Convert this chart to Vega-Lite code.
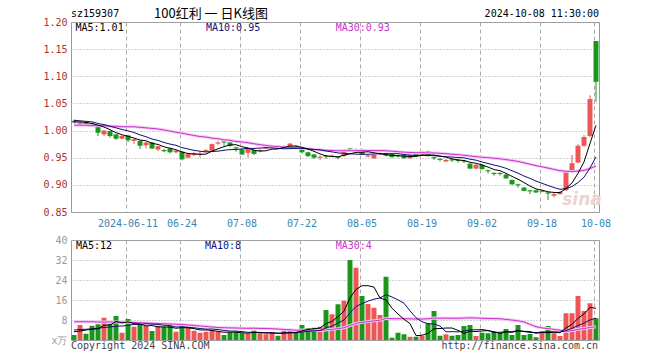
{
"$schema": "https://vega.github.io/schema/vega-lite/v6.json",
"padding": {"left": 42, "top": 7, "right": 60, "bottom": 8},
"spacing": 5,
"config": {
  "view": {"stroke": "#999999", "strokeWidth": 1},
  "font": "DejaVu Sans Mono",
  "text": {"font": "DejaVu Sans Mono", "fontSize": 10},
  "axis": {"labelFont": "DejaVu Sans Mono", "labelFontSize": 10, "ticks": false, "domain": false, "labelOverlap": false}
},
"datasets": {"k": [
{"d":"2024-05-28","o":1.018,"h":1.020,"l":1.013,"c":1.015,"v":2.0,"m5":1.016,"m10":1.019,"m30":1.010,"vm5":3.3,"vm10":4.0,"vm30":7.3},
{"d":"2024-05-29","o":1.012,"h":1.017,"l":1.010,"c":1.015,"v":6.0,"m5":1.016,"m10":1.018,"m30":1.010,"vm5":3.6,"vm10":4.2,"vm30":7.3},
{"d":"2024-05-30","o":1.015,"h":1.016,"l":1.010,"c":1.012,"v":2.5,"m5":1.015,"m10":1.017,"m30":1.010,"vm5":4.0,"vm10":4.3,"vm30":7.3},
{"d":"2024-05-31","o":1.013,"h":1.015,"l":1.008,"c":1.010,"v":5.7,"m5":1.013,"m10":1.016,"m30":1.009,"vm5":4.3,"vm10":4.5,"vm30":7.3},
{"d":"2024-06-03","o":1.007,"h":1.008,"l":0.990,"c":0.996,"v":6.3,"m5":1.010,"m10":1.013,"m30":1.009,"vm5":4.5,"vm10":4.7,"vm30":7.2},
{"d":"2024-06-04","o":0.993,"h":1.001,"l":0.990,"c":1.000,"v":8.9,"m5":1.0066,"m10":1.011,"m30":1.009,"vm5":5.88,"vm10":5.0,"vm30":7.2},
{"d":"2024-06-05","o":0.999,"h":1.000,"l":0.987,"c":0.990,"v":6.5,"m5":1.0016,"m10":1.008,"m30":1.008,"vm5":5.98,"vm10":5.2,"vm30":7.2},
{"d":"2024-06-06","o":0.993,"h":0.994,"l":0.983,"c":0.985,"v":9.6,"m5":0.9962,"m10":1.005,"m30":1.008,"vm5":7.4,"vm10":5.5,"vm30":7.2},
{"d":"2024-06-07","o":0.985,"h":0.991,"l":0.984,"c":0.990,"v":2.9,"m5":0.9922,"m10":1.002,"m30":1.007,"vm5":6.84,"vm10":5.6,"vm30":7.1},
{"d":"2024-06-11","o":0.991,"h":0.992,"l":0.979,"c":0.982,"v":8.4,"m5":0.9894,"m10":0.9995,"m30":1.007,"vm5":7.26,"vm10":5.88,"vm30":7.1},
{"d":"2024-06-12","o":0.981,"h":0.985,"l":0.975,"c":0.984,"v":5.3,"m5":0.9862,"m10":0.9964,"m30":1.007,"vm5":6.54,"vm10":6.21,"vm30":7.0},
{"d":"2024-06-13","o":0.981,"h":0.982,"l":0.966,"c":0.972,"v":6.0,"m5":0.9826,"m10":0.9921,"m30":1.006,"vm5":6.44,"vm10":6.21,"vm30":6.9},
{"d":"2024-06-14","o":0.973,"h":0.979,"l":0.967,"c":0.978,"v":5.6,"m5":0.9812,"m10":0.9887,"m30":1.005,"vm5":5.64,"vm10":6.52,"vm30":6.8},
{"d":"2024-06-17","o":0.978,"h":0.979,"l":0.966,"c":0.967,"v":3.6,"m5":0.9766,"m10":0.9844,"m30":1.004,"vm5":5.78,"vm10":6.31,"vm30":6.7},
{"d":"2024-06-18","o":0.965,"h":0.972,"l":0.962,"c":0.971,"v":5.7,"m5":0.9744,"m10":0.9819,"m30":1.003,"vm5":5.24,"vm10":6.25,"vm30":6.6},
{"d":"2024-06-19","o":0.964,"h":0.966,"l":0.960,"c":0.962,"v":5.3,"m5":0.970,"m10":0.9781,"m30":1.001,"vm5":5.24,"vm10":5.89,"vm30":6.5},
{"d":"2024-06-20","o":0.967,"h":0.968,"l":0.958,"c":0.960,"v":5.6,"m5":0.9676,"m10":0.9751,"m30":0.999,"vm5":5.16,"vm10":5.8,"vm30":6.4},
{"d":"2024-06-21","o":0.960,"h":0.965,"l":0.958,"c":0.963,"v":3.3,"m5":0.9646,"m10":0.9729,"m30":0.997,"vm5":4.7,"vm10":5.17,"vm30":6.3},
{"d":"2024-06-24","o":0.961,"h":0.962,"l":0.945,"c":0.947,"v":4.9,"m5":0.9606,"m10":0.9686,"m30":0.995,"vm5":4.96,"vm10":5.37,"vm30":6.2},
{"d":"2024-06-25","o":0.950,"h":0.958,"l":0.949,"c":0.957,"v":5.3,"m5":0.9578,"m10":0.9661,"m30":0.993,"vm5":4.88,"vm10":5.06,"vm30":6.0},
{"d":"2024-06-26","o":0.955,"h":0.960,"l":0.953,"c":0.958,"v":3.7,"m5":0.957,"m10":0.9635,"m30":0.991,"vm5":4.56,"vm10":4.9,"vm30":5.8},
{"d":"2024-06-27","o":0.955,"h":0.962,"l":0.950,"c":0.957,"v":2.9,"m5":0.9564,"m10":0.962,"m30":0.989,"vm5":4.02,"vm10":4.59,"vm30":5.6},
{"d":"2024-06-28","o":0.961,"h":0.966,"l":0.960,"c":0.964,"v":3.3,"m5":0.9566,"m10":0.9606,"m30":0.988,"vm5":4.02,"vm10":4.36,"vm30":5.4},
{"d":"2024-07-01","o":0.963,"h":0.976,"l":0.962,"c":0.975,"v":4.0,"m5":0.9622,"m10":0.9614,"m30":0.986,"vm5":3.84,"vm10":4.4,"vm30":5.2},
{"d":"2024-07-02","o":0.976,"h":0.981,"l":0.974,"c":0.978,"v":3.3,"m5":0.9664,"m10":0.9621,"m30":0.985,"vm5":3.44,"vm10":4.16,"vm30":5.0},
{"d":"2024-07-03","o":0.980,"h":0.982,"l":0.972,"c":0.978,"v":2.0,"m5":0.9704,"m10":0.9637,"m30":0.983,"vm5":3.1,"vm10":3.83,"vm30":4.9},
{"d":"2024-07-04","o":0.978,"h":0.979,"l":0.970,"c":0.972,"v":3.1,"m5":0.9734,"m10":0.9649,"m30":0.982,"vm5":3.14,"vm10":3.58,"vm30":4.85},
{"d":"2024-07-05","o":0.969,"h":0.970,"l":0.961,"c":0.967,"v":3.3,"m5":0.974,"m10":0.9653,"m30":0.980,"vm5":3.14,"vm10":3.58,"vm30":4.8},
{"d":"2024-07-08","o":0.965,"h":0.966,"l":0.955,"c":0.956,"v":2.7,"m5":0.9702,"m10":0.9662,"m30":0.979,"vm5":2.88,"vm10":3.36,"vm30":4.72},
{"d":"2024-07-09","o":0.959,"h":0.968,"l":0.950,"c":0.967,"v":2.4,"m5":0.968,"m10":0.9672,"m30":0.9776,"vm5":2.7,"vm10":3.07,"vm30":4.67},
{"d":"2024-07-10","o":0.964,"h":0.965,"l":0.955,"c":0.957,"v":3.7,"m5":0.9638,"m10":0.9671,"m30":0.9757,"vm5":3.04,"vm10":3.07,"vm30":4.73},
{"d":"2024-07-11","o":0.962,"h":0.966,"l":0.960,"c":0.964,"v":2.7,"m5":0.9622,"m10":0.9678,"m30":0.974,"vm5":2.96,"vm10":3.05,"vm30":4.62},
{"d":"2024-07-12","o":0.967,"h":0.972,"l":0.966,"c":0.970,"v":2.3,"m5":0.9628,"m10":0.9684,"m30":0.9726,"vm5":2.76,"vm10":2.95,"vm30":4.61},
{"d":"2024-07-15","o":0.969,"h":0.973,"l":0.968,"c":0.971,"v":3.1,"m5":0.9658,"m10":0.968,"m30":0.9713,"vm5":2.84,"vm10":2.86,"vm30":4.52},
{"d":"2024-07-16","o":0.972,"h":0.973,"l":0.967,"c":0.969,"v":1.7,"m5":0.9662,"m10":0.9671,"m30":0.9704,"vm5":2.7,"vm10":2.7,"vm30":4.37},
{"d":"2024-07-17","o":0.969,"h":0.973,"l":0.968,"c":0.971,"v":3.7,"m5":0.969,"m10":0.9664,"m30":0.9694,"vm5":2.7,"vm10":2.87,"vm30":4.2},
{"d":"2024-07-18","o":0.970,"h":0.977,"l":0.967,"c":0.976,"v":3.6,"m5":0.9714,"m10":0.9668,"m30":0.9689,"vm5":2.88,"vm10":2.92,"vm30":4.1},
{"d":"2024-07-19","o":0.972,"h":0.973,"l":0.968,"c":0.970,"v":3.1,"m5":0.9714,"m10":0.9671,"m30":0.9684,"vm5":3.04,"vm10":2.9,"vm30":3.88},
{"d":"2024-07-22","o":0.968,"h":0.969,"l":0.958,"c":0.960,"v":6.0,"m5":0.9692,"m10":0.9675,"m30":0.9674,"vm5":3.62,"vm10":3.23,"vm30":3.99},
{"d":"2024-07-23","o":0.960,"h":0.961,"l":0.951,"c":0.953,"v":4.7,"m5":0.966,"m10":0.9661,"m30":0.9665,"vm5":4.22,"vm10":3.46,"vm30":3.86},
{"d":"2024-07-24","o":0.956,"h":0.957,"l":0.948,"c":0.950,"v":4.9,"m5":0.9618,"m10":0.9654,"m30":0.9653,"vm5":4.46,"vm10":3.58,"vm30":3.85},
{"d":"2024-07-25","o":0.950,"h":0.954,"l":0.946,"c":0.952,"v":5.3,"m5":0.957,"m10":0.9642,"m30":0.9647,"vm5":4.8,"vm10":3.84,"vm30":3.83},
{"d":"2024-07-26","o":0.954,"h":0.955,"l":0.948,"c":0.952,"v":12.0,"m5":0.9534,"m10":0.9624,"m30":0.9638,"vm5":6.58,"vm10":4.81,"vm30":4.04},
{"d":"2024-07-29","o":0.952,"h":0.956,"l":0.951,"c":0.954,"v":10.3,"m5":0.9522,"m10":0.9607,"m30":0.9634,"vm5":7.44,"vm10":5.53,"vm30":4.26},
{"d":"2024-07-30","o":0.952,"h":0.953,"l":0.947,"c":0.950,"v":14.3,"m5":0.9516,"m10":0.9588,"m30":0.9627,"vm5":9.36,"vm10":6.79,"vm30":4.55},
{"d":"2024-07-31","o":0.953,"h":0.966,"l":0.952,"c":0.965,"v":15.7,"m5":0.9546,"m10":0.9582,"m30":0.9628,"vm5":11.52,"vm10":7.99,"vm30":4.9},
{"d":"2024-08-01","o":0.967,"h":0.968,"l":0.962,"c":0.965,"v":32.0,"m5":0.9572,"m10":0.9571,"m30":0.9629,"vm5":16.86,"vm10":10.83,"vm30":5.78},
{"d":"2024-08-02","o":0.963,"h":0.967,"l":0.961,"c":0.965,"v":28.9,"m5":0.9598,"m10":0.9566,"m30":0.963,"vm5":20.24,"vm10":13.41,"vm30":6.63},
{"d":"2024-08-05","o":0.965,"h":0.967,"l":0.955,"c":0.956,"v":17.6,"m5":0.9602,"m10":0.9562,"m30":0.9633,"vm5":21.7,"vm10":14.57,"vm30":7.05},
{"d":"2024-08-06","o":0.952,"h":0.956,"l":0.951,"c":0.954,"v":14.4,"m5":0.961,"m10":0.9563,"m30":0.9632,"vm5":21.72,"vm10":15.54,"vm30":7.36},
{"d":"2024-08-07","o":0.949,"h":0.956,"l":0.948,"c":0.955,"v":12.9,"m5":0.959,"m10":0.9568,"m30":0.9631,"vm5":21.16,"vm10":16.34,"vm30":7.66},
{"d":"2024-08-08","o":0.956,"h":0.960,"l":0.955,"c":0.958,"v":10.0,"m5":0.9576,"m10":0.9574,"m30":0.9631,"vm5":16.76,"vm10":16.81,"vm30":7.9},
{"d":"2024-08-09","o":0.958,"h":0.959,"l":0.952,"c":0.954,"v":25.3,"m5":0.9554,"m10":0.9576,"m30":0.9628,"vm5":16.04,"vm10":18.14,"vm30":8.63},
{"d":"2024-08-12","o":0.957,"h":0.958,"l":0.950,"c":0.951,"v":0.9,"m5":0.9544,"m10":0.9573,"m30":0.962,"vm5":12.7,"vm10":17.2,"vm30":8.53},
{"d":"2024-08-13","o":0.954,"h":0.955,"l":0.950,"c":0.952,"v":2.9,"m5":0.954,"m10":0.9575,"m30":0.9611,"vm5":10.4,"vm10":16.06,"vm30":8.52},
{"d":"2024-08-14","o":0.955,"h":0.956,"l":0.948,"c":0.949,"v":2.3,"m5":0.9528,"m10":0.9559,"m30":0.9602,"vm5":8.28,"vm10":14.72,"vm30":8.53},
{"d":"2024-08-15","o":0.949,"h":0.956,"l":0.948,"c":0.955,"v":1.3,"m5":0.9522,"m10":0.9549,"m30":0.9596,"vm5":6.54,"vm10":11.65,"vm30":8.47},
{"d":"2024-08-16","o":0.957,"h":0.958,"l":0.953,"c":0.955,"v":1.3,"m5":0.9524,"m10":0.9539,"m30":0.9592,"vm5":1.74,"vm10":8.89,"vm30":8.4},
{"d":"2024-08-19","o":0.955,"h":0.963,"l":0.954,"c":0.962,"v":1.7,"m5":0.9546,"m10":0.9545,"m30":0.9594,"vm5":1.9,"vm10":7.3,"vm30":8.37},
{"d":"2024-08-20","o":0.962,"h":0.963,"l":0.952,"c":0.953,"v":6.7,"m5":0.9548,"m10":0.9544,"m30":0.9589,"vm5":2.66,"vm10":6.53,"vm30":8.51},
{"d":"2024-08-21","o":0.951,"h":0.952,"l":0.946,"c":0.949,"v":11.6,"m5":0.9548,"m10":0.9538,"m30":0.9587,"vm5":4.52,"vm10":6.4,"vm30":8.77},
{"d":"2024-08-22","o":0.948,"h":0.949,"l":0.943,"c":0.946,"v":1.7,"m5":0.953,"m10":0.9526,"m30":0.9581,"vm5":4.6,"vm10":5.57,"vm30":8.74},
{"d":"2024-08-23","o":0.943,"h":0.947,"l":0.942,"c":0.946,"v":2.3,"m5":0.9512,"m10":0.9518,"m30":0.9573,"vm5":4.8,"vm10":3.27,"vm30":8.74},
{"d":"2024-08-26","o":0.947,"h":0.948,"l":0.942,"c":0.945,"v":1.7,"m5":0.9478,"m10":0.9512,"m30":0.9564,"vm5":4.8,"vm10":3.35,"vm30":8.69},
{"d":"2024-08-27","o":0.946,"h":0.947,"l":0.941,"c":0.944,"v":2.0,"m5":0.946,"m10":0.9504,"m30":0.9556,"vm5":3.86,"vm10":3.26,"vm30":8.7},
{"d":"2024-08-28","o":0.945,"h":0.946,"l":0.940,"c":0.943,"v":5.6,"m5":0.9448,"m10":0.9498,"m30":0.9546,"vm5":2.66,"vm10":3.59,"vm30":8.77},
{"d":"2024-08-29","o":0.939,"h":0.940,"l":0.929,"c":0.930,"v":6.0,"m5":0.9416,"m10":0.9473,"m30":0.9531,"vm5":3.52,"vm10":4.06,"vm30":8.85},
{"d":"2024-08-30","o":0.930,"h":0.938,"l":0.929,"c":0.937,"v":1.6,"m5":0.9398,"m10":0.9455,"m30":0.952,"vm5":3.38,"vm10":4.09,"vm30":8.8},
{"d":"2024-09-02","o":0.937,"h":0.938,"l":0.928,"c":0.929,"v":2.9,"m5":0.9366,"m10":0.9422,"m30":0.951,"vm5":3.62,"vm10":4.21,"vm30":8.69},
{"d":"2024-09-03","o":0.927,"h":0.928,"l":0.921,"c":0.925,"v":2.7,"m5":0.9328,"m10":0.9394,"m30":0.950,"vm5":3.76,"vm10":3.81,"vm30":8.63},
{"d":"2024-09-04","o":0.922,"h":0.923,"l":0.917,"c":0.920,"v":3.3,"m5":0.9282,"m10":0.9365,"m30":0.949,"vm5":3.3,"vm10":2.98,"vm30":8.57},
{"d":"2024-09-05","o":0.922,"h":0.923,"l":0.917,"c":0.920,"v":2.9,"m5":0.9262,"m10":0.9339,"m30":0.948,"vm5":2.68,"vm10":3.1,"vm30":8.49},
{"d":"2024-09-06","o":0.919,"h":0.920,"l":0.911,"c":0.912,"v":4.4,"m5":0.9212,"m10":0.9305,"m30":0.9466,"vm5":3.24,"vm10":3.31,"vm30":8.24},
{"d":"2024-09-09","o":0.909,"h":0.910,"l":0.900,"c":0.901,"v":2.0,"m5":0.9156,"m10":0.9261,"m30":0.9449,"vm5":3.06,"vm10":3.34,"vm30":7.96},
{"d":"2024-09-10","o":0.901,"h":0.902,"l":0.895,"c":0.899,"v":6.0,"m5":0.9104,"m10":0.9216,"m30":0.9432,"vm5":3.72,"vm10":3.74,"vm30":7.69},
{"d":"2024-09-11","o":0.895,"h":0.896,"l":0.888,"c":0.889,"v":2.0,"m5":0.9042,"m10":0.9162,"m30":0.9406,"vm5":3.46,"vm10":3.38,"vm30":7.23},
{"d":"2024-09-12","o":0.890,"h":0.891,"l":0.883,"c":0.888,"v":2.4,"m5":0.8978,"m10":0.912,"m30":0.9381,"vm5":3.36,"vm10":3.02,"vm30":6.24},
{"d":"2024-09-13","o":0.890,"h":0.891,"l":0.885,"c":0.886,"v":1.1,"m5":0.8926,"m10":0.9069,"m30":0.9354,"vm5":2.7,"vm10":2.97,"vm30":5.32},
{"d":"2024-09-18","o":0.887,"h":0.891,"l":0.886,"c":0.889,"v":3.6,"m5":0.8902,"m10":0.9029,"m30":0.9332,"vm5":3.02,"vm10":3.04,"vm30":4.85},
{"d":"2024-09-19","o":0.886,"h":0.887,"l":0.872,"c":0.884,"v":5.6,"m5":0.8872,"m10":0.8988,"m30":0.9309,"vm5":2.94,"vm10":3.33,"vm30":4.56},
{"d":"2024-09-20","o":0.880,"h":0.885,"l":0.877,"c":0.883,"v":2.7,"m5":0.886,"m10":0.8951,"m30":0.9285,"vm5":3.08,"vm10":3.27,"vm30":4.22},
{"d":"2024-09-23","o":0.883,"h":0.888,"l":0.882,"c":0.887,"v":1.6,"m5":0.8858,"m10":0.8918,"m30":0.9261,"vm5":2.92,"vm10":3.14,"vm30":3.94},
{"d":"2024-09-24","o":0.890,"h":0.926,"l":0.889,"c":0.924,"v":10.7,"m5":0.8934,"m10":0.893,"m30":0.9251,"vm5":4.84,"vm10":3.77,"vm30":3.45},
{"d":"2024-09-25","o":0.927,"h":0.955,"l":0.925,"c":0.940,"v":10.7,"m5":0.9036,"m10":0.8969,"m30":0.9247,"vm5":6.26,"vm10":4.64,"vm30":3.78},
{"d":"2024-09-26","o":0.941,"h":0.975,"l":0.940,"c":0.972,"v":17.6,"m5":0.9212,"m10":0.9042,"m30":0.9254,"vm5":8.66,"vm10":5.8,"vm30":4.27},
{"d":"2024-09-27","o":0.972,"h":0.992,"l":0.970,"c":0.988,"v":11.6,"m5":0.9422,"m10":0.9141,"m30":0.9267,"vm5":10.44,"vm10":6.76,"vm30":4.58},
{"d":"2024-09-30","o":0.990,"h":1.065,"l":0.988,"c":1.058,"v":14.7,"m5":0.9764,"m10":0.9311,"m30":0.9301,"vm5":13.06,"vm10":7.99,"vm30":5.02},
{"d":"2024-10-08","o":1.165,"h":1.165,"l":1.053,"c":1.090,"v":8.7,"m5":1.0096,"m10":0.9515,"m30":0.9346,"vm5":12.66,"vm10":8.75,"vm30":5.27}
]},
"vconcat": [
{
  "width": 528, "height": 190,
  "data": {"name": "k"},
  "encoding": {
    "x": {"field": "d", "type": "ordinal", "title": null,
      "scale": {"paddingInner": 0.17, "paddingOuter": 0.085},
      "axis": {"values": ["2024-06-11","2024-06-24","2024-07-08","2024-07-22","2024-08-05","2024-08-19","2024-09-02","2024-09-18","2024-10-08"],
        "labelExpr": "datum.value == '2024-06-11' ? datum.value : slice(datum.value, 5)",
        "labelAngle": 0, "labelColor": "#3a86b4", "labelPadding": 6, "bandPosition": 0.1, "labelOverlap": false,
        "grid": true, "gridColor": "#aaaaaa", "gridDash": [4, 3], "gridWidth": 1}}
  },
  "layer": [
    {"data": {"values": [{}]},
     "mark": {"type": "text", "text": "sina", "fontStyle": "italic", "fontWeight": "bold", "fontSize": 17, "font": "DejaVu Sans", "color": "#ecd2d2", "align": "center", "baseline": "middle", "dx": -2},
     "encoding": {"x": {"datum": "2024-09-27"}, "y": {"datum": 0.872}}},
    {"mark": {"type": "rule", "strokeWidth": 1},
     "encoding": {
       "y": {"field": "l", "type": "quantitative", "title": null,
         "scale": {"domain": [0.85, 1.2], "nice": false, "zero": false},
         "axis": {"values": [0.85, 0.9, 0.95, 1.0, 1.05, 1.1, 1.15, 1.2], "tickCount": 20, "format": ".2f", "labelColor": "#a83232", "labelPadding": 4, "labelOverlap": false,
           "grid": true, "gridColor": "#aaaaaa", "gridDash": [1, 2], "labelFlush": false}},
       "y2": {"field": "h"},
       "color": {"condition": {"test": "datum.c >= datum.o", "value": "#ee5555"}, "value": "#1a961a"}}},
    {"mark": {"type": "bar"},
     "encoding": {
       "y": {"field": "o", "type": "quantitative", "title": null},
       "y2": {"field": "c"},
       "color": {"condition": {"test": "datum.c >= datum.o", "value": "#ee5555"}, "value": "#1a961a"}}},
    {"mark": {"type": "line", "color": "#f4c8f4", "strokeWidth": 3},
     "encoding": {"y": {"field": "m30", "type": "quantitative", "title": null}}},
    {"mark": {"type": "line", "color": "#cc33cc", "strokeWidth": 1},
     "encoding": {"y": {"field": "m30", "type": "quantitative", "title": null}}},
    {"mark": {"type": "line", "color": "#10107a", "strokeWidth": 1},
     "encoding": {"y": {"field": "m10", "type": "quantitative", "title": null}}},
    {"mark": {"type": "line", "color": "#000000", "strokeWidth": 1},
     "encoding": {"y": {"field": "m5", "type": "quantitative", "title": null}}},
    {"data": {"values": [{}]},
     "mark": {"type": "text", "text": "sz159307", "align": "left", "baseline": "middle", "dx": -3, "dy": -8.5, "color": "#000000"},
     "encoding": {"x": {"datum": "2024-05-28"}, "y": {"datum": 1.2}}},
    {"data": {"values": [{}]},
     "mark": {"type": "text", "text": "100红利 一 日K线图", "font": "Noto Sans CJK SC", "fontSize": 13, "align": "center", "baseline": "middle", "dx": -1, "dy": -8.5, "color": "#000000"},
     "encoding": {"x": {"datum": "2024-07-01"}, "y": {"datum": 1.2}}},
    {"data": {"values": [{}]},
     "mark": {"type": "text", "text": "2024-10-08 11:30:00", "align": "right", "baseline": "middle", "dx": 3, "dy": -8.5, "color": "#000000"},
     "encoding": {"x": {"datum": "2024-10-08"}, "y": {"datum": 1.2}}},
    {"data": {"values": [{}]},
     "mark": {"type": "text", "text": "MA5:1.01", "align": "left", "baseline": "middle", "dx": 1.5, "dy": 5.5, "color": "#000000"},
     "encoding": {"x": {"datum": "2024-05-28"}, "y": {"datum": 1.2}}},
    {"data": {"values": [{}]},
     "mark": {"type": "text", "text": "MA10:0.95", "align": "left", "baseline": "middle", "dx": 0, "dy": 5.5, "color": "#10107a"},
     "encoding": {"x": {"datum": "2024-06-28"}, "y": {"datum": 1.2}}},
    {"data": {"values": [{}]},
     "mark": {"type": "text", "text": "MA30:0.93", "align": "left", "baseline": "middle", "dx": -2.3, "dy": 5.5, "color": "#cc33cc"},
     "encoding": {"x": {"datum": "2024-07-30"}, "y": {"datum": 1.2}}}
  ]
},
{
  "width": 528, "height": 100,
  "data": {"name": "k"},
  "encoding": {
    "x": {"field": "d", "type": "ordinal", "title": null,
      "scale": {"paddingInner": 0.17, "paddingOuter": 0.085},
      "axis": {"values": ["2024-06-11","2024-06-24","2024-07-08","2024-07-22","2024-08-05","2024-08-19","2024-09-02","2024-09-18","2024-10-08"],
        "labels": false, "bandPosition": 0.1,
        "grid": true, "gridColor": "#aaaaaa", "gridDash": [4, 3], "gridWidth": 1}}
  },
  "layer": [
    {"mark": {"type": "bar"},
     "encoding": {
       "y": {"field": "v", "type": "quantitative", "title": null,
         "scale": {"domain": [0, 40], "nice": false},
         "axis": {"values": [0, 8, 16, 24, 32, 40], "tickCount": 20, "labelExpr": "datum.value == 0 ? 'x万' : datum.label", "labelColor": "#999999", "labelPadding": 4, "labelOverlap": false,
           "grid": true, "gridColor": "#aaaaaa", "gridDash": [1, 2], "labelFlush": false}},
       "color": {"condition": {"test": "datum.c >= datum.o", "value": "#ee5555"}, "value": "#1a961a"}}},
    {"mark": {"type": "line", "color": "#f4c8f4", "strokeWidth": 3},
     "encoding": {"y": {"field": "vm30", "type": "quantitative", "title": null}}},
    {"mark": {"type": "line", "color": "#cc33cc", "strokeWidth": 1},
     "encoding": {"y": {"field": "vm30", "type": "quantitative", "title": null}}},
    {"mark": {"type": "line", "color": "#10107a", "strokeWidth": 1},
     "encoding": {"y": {"field": "vm10", "type": "quantitative", "title": null}}},
    {"mark": {"type": "line", "color": "#000000", "strokeWidth": 1},
     "encoding": {"y": {"field": "vm5", "type": "quantitative", "title": null}}},
    {"data": {"values": [{}]},
     "mark": {"type": "text", "text": "MA5:12", "align": "left", "baseline": "middle", "dx": 2, "dy": 6, "color": "#000000"},
     "encoding": {"x": {"datum": "2024-05-28"}, "y": {"datum": 40}}},
    {"data": {"values": [{}]},
     "mark": {"type": "text", "text": "MA10:8", "align": "left", "baseline": "middle", "dx": -1, "dy": 6, "color": "#10107a"},
     "encoding": {"x": {"datum": "2024-06-28"}, "y": {"datum": 40}}},
    {"data": {"values": [{}]},
     "mark": {"type": "text", "text": "MA30:4", "align": "left", "baseline": "middle", "dx": -2.3, "dy": 6, "color": "#cc33cc"},
     "encoding": {"x": {"datum": "2024-07-30"}, "y": {"datum": 40}}},
    {"data": {"values": [{}]},
     "mark": {"type": "text", "text": "Copyright 2024 SINA.COM", "align": "left", "baseline": "middle", "dx": -3, "dy": 5.5, "color": "#444444"},
     "encoding": {"x": {"datum": "2024-05-28"}, "y": {"datum": 0}}},
    {"data": {"values": [{}]},
     "mark": {"type": "text", "text": "http://finance.sina.com.cn", "align": "right", "baseline": "middle", "dx": 2, "dy": 5.5, "color": "#444444"},
     "encoding": {"x": {"datum": "2024-10-08"}, "y": {"datum": 0}}}
  ]
}
]
}
